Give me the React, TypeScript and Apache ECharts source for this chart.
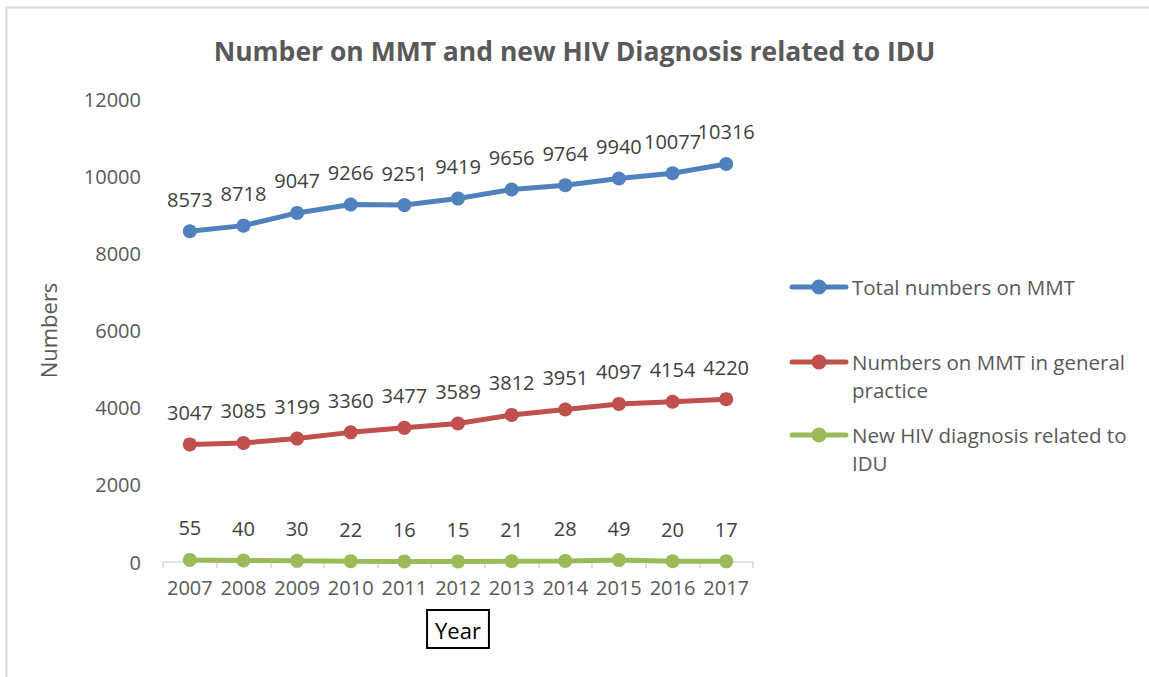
import React, { useEffect, useRef } from "react";
import * as echarts from "echarts";

const years = ["2007", "2008", "2009", "2010", "2011", "2012", "2013", "2014", "2015", "2016", "2017"];
const totalMMT = [8573, 8718, 9047, 9266, 9251, 9419, 9656, 9764, 9940, 10077, 10316];
const gpMMT = [3047, 3085, 3199, 3360, 3477, 3589, 3812, 3951, 4097, 4154, 4220];
const hivIDU = [55, 40, 30, 22, 16, 15, 21, 28, 49, 20, 17];
const seriesNames = [
  "Total numbers on MMT",
  "Numbers on MMT in general practice",
  "New HIV diagnosis related to IDU",
];
const legendLines = [
  ["Total numbers on MMT"],
  ["Numbers on MMT in general", "practice"],
  ["New HIV diagnosis related to", "IDU"],
];
const colors = ["#4F81BD", "#C0504D", "#9BBB59"];
const yMin = 0;
const yMax = 12000;
const yInterval = 2000;

const FONT = "'Open Sans', 'Noto Sans', sans-serif";

export default function App() {
  const ref = useRef<HTMLDivElement>(null);
  useEffect(() => {
    document.body.style.margin = "0";
    if (!ref.current) return;
    const chart = echarts.init(ref.current, undefined, { renderer: "svg" });
    const dataSets = [totalMMT, gpMMT, hivIDU];

    const legendTop = [287, 362, 435];
    const legendGraphics: any[] = [];
    legendLines.forEach((lines, i) => {
      const y = legendTop[i];
      legendGraphics.push({
        type: "line",
        shape: { x1: 792, y1: y, x2: 846, y2: y },
        style: { stroke: colors[i], lineWidth: 5, lineCap: "round" },
      });
      legendGraphics.push({
        type: "circle",
        shape: { cx: 819, cy: y, r: 7.5 },
        style: { fill: colors[i] },
      });
      lines.forEach((t, j) => {
        legendGraphics.push({
          type: "text",
          x: 852,
          y: y + j * 28,
          style: {
            text: t,
            fill: "#595959",
            font: `20.5px ${FONT}`,
            textVerticalAlign: "middle",
            verticalAlign: "middle",
          },
        });
      });
    });

    chart.setOption({
      animation: false,
      backgroundColor: "#ffffff",
      title: {
        text: "Number on MMT and new HIV Diagnosis related to IDU",
        left: "center",
        top: 32,
        textStyle: { fontFamily: FONT, fontSize: 26.5, fontWeight: "bold", color: "#595959" },
      },
      grid: { left: 163, right: 396, top: 99, bottom: 115 },
      xAxis: {
        type: "category",
        data: years,
        boundaryGap: true,
        name: "Year",
        nameLocation: "middle",
        nameGap: 48,
        nameTextStyle: {
          fontFamily: FONT,
          fontSize: 22,
          color: "#000000",
          borderColor: "#000000",
          borderWidth: 2,
          padding: [9, 8, 7, 8],
          verticalAlign: "top",
        },
        axisLine: { lineStyle: { color: "#d9d9d9", width: 1.5 } },
        axisTick: { show: true, alignWithLabel: false, length: 6, lineStyle: { color: "#d9d9d9", width: 1.5 } },
        axisLabel: { fontFamily: FONT, fontSize: 20, color: "#595959", margin: 15, interval: 0 },
        splitLine: { show: false },
      },
      yAxis: {
        type: "value",
        min: yMin,
        max: yMax,
        interval: yInterval,
        name: "Numbers",
        nameLocation: "middle",
        nameGap: 104,
        nameRotate: 90,
        nameTextStyle: { fontFamily: FONT, fontSize: 22, color: "#595959" },
        axisLine: { show: false },
        axisTick: { show: false },
        splitLine: { show: false },
        axisLabel: {
          fontFamily: FONT,
          fontSize: 20,
          color: "#595959",
          margin: 22,
          formatter: (v: number) => String(v),
        },
      },
      series: dataSets.map((d, i) => ({
        name: seriesNames[i],
        type: "line",
        data: d,
        symbol: "circle",
        symbolSize: 14,
        itemStyle: { color: colors[i] },
        lineStyle: { color: colors[i], width: 5 },
        label: {
          show: true,
          position: "top",
          distance: 15,
          fontFamily: FONT,
          fontSize: 20,
          color: "#404040",
        },
      })),
      graphic: [
        {
          type: "line",
          shape: { x1: 6, y1: 7.5, x2: 1149, y2: 7.5 },
          style: { stroke: "#d9d9d9", lineWidth: 2 },
        },
        {
          type: "line",
          shape: { x1: 6.5, y1: 7, x2: 6.5, y2: 677 },
          style: { stroke: "#d9d9d9", lineWidth: 2 },
        },
        ...legendGraphics,
      ],
    });
    return () => chart.dispose();
  }, []);
  return <div ref={ref} style={{ width: 1149, height: 677 }} />;
}
